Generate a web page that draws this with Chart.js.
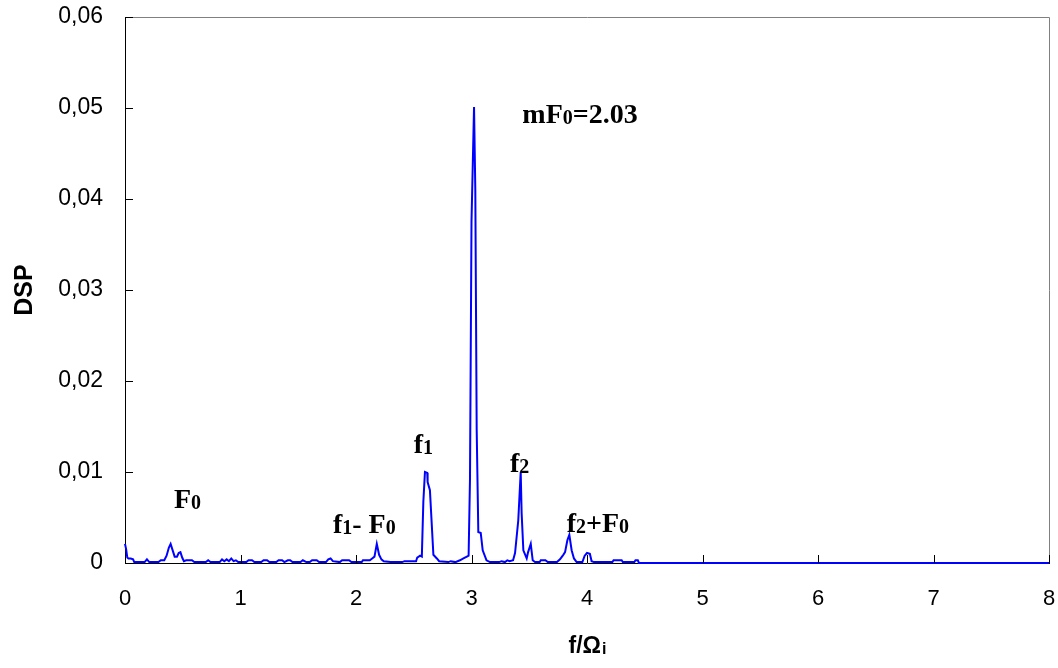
<!DOCTYPE html>
<html lang='pt-BR'>
  <head>
    <meta charset='UTF-8'>
    <title>DSP - f/Ωi</title>
    <script src='https://cdn.jsdelivr.net/npm/chart.js@4.4.0/dist/chart.umd.min.js'></script>
    <style>
      html, body { margin: 0; padding: 0; background: #fff; }
      #caixa { width: 1058px; height: 668px; position: relative; }
    </style>
  </head>
  <body>
    <div id='caixa'><canvas id='grafico'></canvas></div>
    <script>
      // frequência normalizada (f/Ωi) e densidade espectral (DSP)
      let freq = [
        0.00, 0.01, 0.02, 0.03, 0.05, 0.07, 0.08, 0.17, 0.19, 0.21, 0.29, 0.31, 0.34, 0.36, 0.38, 0.395,
        0.41, 0.43, 0.45, 0.465, 0.48, 0.495, 0.51, 0.53, 0.56, 0.58, 0.60, 0.70, 0.72, 0.74, 0.82, 0.84,
        0.86, 0.88, 0.90, 0.92, 0.94, 0.96, 0.98, 1.05, 1.07, 1.10, 1.12, 1.18, 1.20, 1.23, 1.25, 1.31,
        1.33, 1.36, 1.38, 1.41, 1.43, 1.45, 1.52, 1.54, 1.57, 1.60, 1.62, 1.66, 1.68, 1.74, 1.76, 1.78,
        1.80, 1.86, 1.88, 1.94, 1.96, 2.05, 2.06, 2.12, 2.14, 2.16, 2.18, 2.20, 2.22, 2.24, 2.30, 2.40,
        2.42, 2.48, 2.52, 2.53, 2.555, 2.57, 2.583, 2.597, 2.617, 2.62, 2.64, 2.67, 2.70, 2.72, 2.80, 2.82,
        2.86, 2.90, 2.93, 2.96, 2.975, 2.987, 3.00, 3.022, 3.033, 3.045, 3.059, 3.08, 3.097, 3.13, 3.16, 3.24,
        3.26, 3.29, 3.31, 3.33, 3.36, 3.377, 3.405, 3.426, 3.434, 3.449, 3.478, 3.49, 3.513, 3.53, 3.55, 3.59,
        3.60, 3.64, 3.66, 3.74, 3.766, 3.79, 3.81, 3.83, 3.847, 3.867, 3.887, 3.91, 3.96, 3.98, 4.00, 4.025,
        4.04, 4.06, 4.22, 4.23, 4.30, 4.31, 4.41, 4.42, 4.44, 4.45, 8.00
      ];
      let dsp = [
        0.0021, 0.0015, 0.0006, 0.0005, 0.0005, 0.0004, 0.0001, 0.0001, 0.0004, 0.0001, 0.0001, 0.0003, 0.0003, 0.0008, 0.0017, 0.0021,
        0.0015, 0.0007, 0.0007, 0.0011, 0.0012, 0.0006, 0.0002, 0.0003, 0.0003, 0.0003, 0.0001, 0.0001, 0.0003, 0.0001, 0.0001, 0.0004,
        0.0002, 0.0004, 0.0002, 0.0005, 0.0002, 0.0003, 0.0001, 0.0001, 0.0003, 0.0003, 0.0001, 0.0001, 0.0003, 0.0003, 0.0001, 0.0001,
        0.0003, 0.0003, 0.0001, 0.0003, 0.0003, 0.0001, 0.0001, 0.0003, 0.0001, 0.0001, 0.0003, 0.0003, 0.0001, 0.0001, 0.0004, 0.0005,
        0.0002, 0.0001, 0.0003, 0.0003, 0.0001, 0.0001, 0.0003, 0.0003, 0.0005, 0.0007, 0.0021, 0.0009, 0.0004, 0.0002, 0.0001, 0.0001,
        0.0002, 0.0002, 0.0002, 0.0006, 0.0008, 0.0007, 0.0067, 0.0100, 0.0099, 0.0089, 0.0080, 0.0009, 0.0005, 0.0002, 0.0001, 0.0002,
        0.0001, 0.0003, 0.0005, 0.0007, 0.0008, 0.0093, 0.0375, 0.0501, 0.0410, 0.0146, 0.0034, 0.0033, 0.0014, 0.0003, 0.0001, 0.0001,
        0.0002, 0.0001, 0.0003, 0.0002, 0.0003, 0.0011, 0.0047, 0.0100, 0.0055, 0.0014, 0.0005, 0.0012, 0.0021, 0.0003, 0.0001, 0.0001,
        0.0003, 0.0003, 0.0001, 0.0001, 0.0004, 0.0008, 0.0012, 0.0025, 0.0031, 0.0014, 0.0005, 0.0001, 0.0001, 0.0008, 0.0011, 0.0010,
        0.0002, 0.0001, 0.0001, 0.0003, 0.0003, 0.0001, 0.0001, 0.0003, 0.0003, 0.0000, 0.0000
      ];

      // marcas dos eixos
      let xTicks = [0, 1, 2, 3, 4, 5, 6, 7, 8];
      let yTicks = [0, 0.01, 0.02, 0.03, 0.04, 0.05, 0.06];

      // rótulos dos picos: [texto, é índice?], posição em coordenadas dos dados
      let notas = [
        { x: 0.424, y: 0.0060, partes: [['F', 0], ['0', 1]] },
        { x: 1.800, y: 0.00326, partes: [['f', 0], ['1', 1], ['- F', 0], ['0', 1]] },
        { x: 2.500, y: 0.01205, partes: [['f', 0], ['1', 1]] },
        { x: 3.440, y: 0.0483, partes: [['mF', 0], ['0', 1], ['=2.03', 0]] },
        { x: 3.333, y: 0.01003, partes: [['f', 0], ['2', 1]] },
        { x: 3.824, y: 0.00344, partes: [['f', 0], ['2', 1], ['+F', 0], ['0', 1]] }
      ];

      let pontos = freq.map((f, i) => ({ x: f, y: dsp[i] }));

      function rotuloY(v) {
        if (Math.abs(v) < 1e-9) return '0';
        return v.toFixed(2).replace('.', ',');
      }

      // bordas de cima/direita, marcas internas, rótulos e título do eixo x
      let extras = {
        id: 'extras',
        afterDraw(chart) {
          let ctx = chart.ctx;
          let a = chart.chartArea;
          let sx = chart.scales.x, sy = chart.scales.y;

          ctx.save();
          ctx.strokeStyle = '#808080';
          ctx.lineWidth = 1;
          ctx.beginPath();
          ctx.moveTo(a.left, a.top + 0.5);
          ctx.lineTo(a.right + 0.5, a.top + 0.5);
          ctx.lineTo(a.right + 0.5, a.bottom);
          ctx.stroke();

          ctx.strokeStyle = '#000';
          ctx.beginPath();
          xTicks.forEach(t => {
            let px = Math.round(sx.getPixelForValue(t)) + 0.5;
            ctx.moveTo(px, a.bottom);
            ctx.lineTo(px, a.bottom - 8);
          });
          yTicks.forEach(t => {
            let py = Math.round(sy.getPixelForValue(t)) + 0.5;
            ctx.moveTo(a.left, py);
            ctx.lineTo(a.left + 8, py);
          });
          ctx.stroke();

          ctx.fillStyle = '#000';
          ctx.textBaseline = 'alphabetic';
          ctx.textAlign = 'left';
          notas.forEach(n => {
            let cx = sx.getPixelForValue(n.x);
            let cy = sy.getPixelForValue(n.y);
            n.partes.forEach(([t, sub]) => {
              ctx.font = sub ? 'bold 20px "Liberation Serif"' : 'bold 28px "Liberation Serif"';
              ctx.fillText(t, cx, cy + (sub ? 1 : 0));
              cx += ctx.measureText(t).width;
            });
          });

          // título do eixo x: f/Ωi
          let base = 'f/Ω', ind = 'i';
          ctx.font = 'bold 23px "Liberation Sans"';
          let w1 = ctx.measureText(base).width;
          ctx.font = 'bold 16px "Liberation Sans"';
          let w2 = ctx.measureText(ind).width;
          let x0 = (a.left + a.right) / 2 - (w1 + w2) / 2;
          ctx.font = 'bold 23px "Liberation Sans"';
          ctx.fillText(base, x0, 653);
          ctx.font = 'bold 16px "Liberation Sans"';
          ctx.fillText(ind, x0 + w1 + 1, 654);
          ctx.restore();
        }
      };

      let ctx = document.getElementById('grafico').getContext('2d');
      let myChart = new Chart(ctx, {
        type: 'line',
        data: {
          datasets: [{
            label: 'DSP',
            data: pontos,
            borderColor: '#0000ff',
            borderWidth: 2,
            pointRadius: 0,
            tension: 0,
            fill: false,
            clip: 4
          }]
        },
        options: {
          responsive: true,
          maintainAspectRatio: false,
          animation: false,
          devicePixelRatio: 1,
          layout: { padding: { top: 17, right: 9, left: 0, bottom: 0 } },
          plugins: {
            legend: { display: false },
            tooltip: { enabled: false }
          },
          scales: {
            x: {
              type: 'linear',
              min: 0,
              max: 8,
              afterBuildTicks: s => { s.ticks = xTicks.map(v => ({ value: v })); },
              afterFit: s => {
                s.height = 105;
                s.paddingLeft = 0; s.paddingRight = 0;
              },
              ticks: {
                color: '#000',
                padding: 23,
                font: { family: 'Liberation Sans', size: 22 },
                maxRotation: 0,
                callback: v => String(v)
              },
              grid: { drawOnChartArea: false, drawTicks: false },
              border: { color: '#000', width: 1 }
            },
            y: {
              type: 'linear',
              min: 0,
              max: 0.06,
              afterBuildTicks: s => { s.ticks = yTicks.map(v => ({ value: v })); },
              afterFit: s => {
                s.width = 125;
                s.paddingTop = 0; s.paddingBottom = 0;
              },
              ticks: {
                color: '#000',
                padding: 22,
                font: { family: 'Liberation Sans', size: 23 },
                callback: v => rotuloY(v)
              },
              grid: { drawOnChartArea: false, drawTicks: false },
              border: { color: '#000', width: 1 },
              title: {
                display: true,
                text: 'DSP',
                color: '#000',
                font: { family: 'Liberation Sans', size: 25, weight: 'bold' },
                padding: { top: 10, bottom: 0 }
              }
            }
          }
        },
        plugins: [extras]
      });
    </script>
  </body>
</html>
